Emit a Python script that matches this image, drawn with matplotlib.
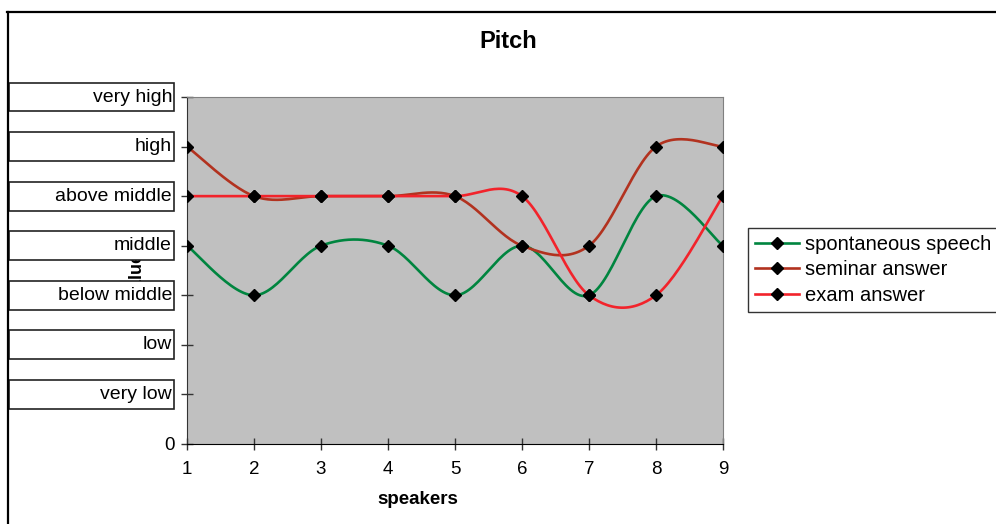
import numpy as np
import matplotlib
matplotlib.use('Agg')
import matplotlib.pyplot as plt
import matplotlib.transforms as mtransforms
from matplotlib.lines import Line2D
from matplotlib.patches import Rectangle

plt.rcParams['font.family'] = ['Liberation Sans', 'DejaVu Sans']

# pitch rating of each speaker (0 .. 7 scale)
speakers = [1, 2, 3, 4, 5, 6, 7, 8, 9]
spontaneous = [4, 3, 4, 4, 3, 4, 3, 5, 4]
seminar = [6, 5, 5, 5, 5, 4, 4, 6, 6]
exam = [5, 5, 5, 5, 5, 5, 3, 3, 5]
series_names = ['spontaneous speech', 'seminar answer', 'exam answer']
series_colors = ['#00853f', '#b2321f', '#f2232b']
level_labels = ['very low', 'low', 'below middle', 'middle',
                'above middle', 'high', 'very high']


def smooth(xs, ys, n=30):
    # spreadsheet-style smoothed line: catmull-rom segments as cubic beziers
    p = np.column_stack([xs, ys]).astype(float)
    p = np.vstack([p[0], p, p[-1]])
    out = []
    t = np.linspace(0, 1, n)[:, None]
    for i in range(1, len(p) - 2):
        p0, p1, p2, p3 = p[i - 1], p[i], p[i + 1], p[i + 2]
        c1 = p1 + (p2 - p0) / 6.0
        c2 = p2 - (p3 - p1) / 6.0
        seg = ((1 - t) ** 3) * p1 + 3 * ((1 - t) ** 2) * t * c1 \
            + 3 * (1 - t) * t ** 2 * c2 + t ** 3 * p2
        out.append(seg if i == 1 else seg[1:])
    out = np.vstack(out)
    return out[:, 0], out[:, 1]


W, H = 996, 524
fig = plt.figure(figsize=(W / 100, H / 100), dpi=100)
ax = fig.add_axes([187 / W, 1 - 444 / H, (723 - 187) / W, (444 - 97) / H])
ax.set_facecolor('#c0c0c0')

for ys, name, col in zip([spontaneous, seminar, exam], series_names, series_colors):
    sx, sy = smooth(speakers, ys)
    ax.plot(sx, sy, color=col, lw=1.9, solid_capstyle='round', zorder=3)
    ax.plot(speakers, ys, ls='none', marker='D', ms=6.5, color='black', zorder=4)

ax.set_xlim(1, 9)
ax.set_ylim(0, 7)
ax.set_xticks(speakers)
ax.set_yticks(range(8))
ax.set_yticklabels(['0'] + [''] * 7)
ax.tick_params(direction='inout', length=9, width=1, labelsize=13.5, color='#333333')
ax.tick_params(axis='x', pad=8)
ax.tick_params(axis='y', pad=4)
ax.spines['left'].set_color('#333333')
ax.spines['bottom'].set_color('black')
ax.spines['top'].set_color('#808080')
ax.spines['right'].set_color('#808080')

# axis title sits behind the level boxes
bt = mtransforms.blended_transform_factory(fig.transFigure, ax.transData)
ax.text(137 / W, 3.4, 'Value', transform=bt, rotation=90,
        ha='center', va='center', fontsize=13, fontweight='bold', zorder=1)
for lvl, lab in enumerate(level_labels, start=1):
    rect = Rectangle((9 / W, lvl - 0.29), (174 - 9) / W, 0.58, transform=bt,
                     facecolor='white', edgecolor='#222222', lw=1.2,
                     clip_on=False, zorder=5)
    ax.add_patch(rect)
    ax.text(172 / W, lvl, lab, transform=bt, ha='right', va='center',
            fontsize=14, zorder=6, clip_on=False)

fig.text(508 / W, 1 - 41 / H, 'Pitch', ha='center', va='center',
         fontsize=17, fontweight='bold')
fig.text(418 / W, 1 - 499 / H, 'speakers', ha='center', va='center',
         fontsize=13.5, fontweight='bold')

handles = [Line2D([], [], color=c, lw=1.9, marker='D', ms=6.5,
                  markerfacecolor='black', markeredgecolor='black')
           for c in series_colors]
leg = fig.legend(handles, series_names, loc='upper left',
                 bbox_to_anchor=(748 / W, 1 - 228 / H), fontsize=14.5,
                 frameon=True, fancybox=False, shadow=False,
                 handlelength=2.2, handletextpad=0.3, labelspacing=0.32,
                 borderpad=0.35, borderaxespad=0)
leg.get_frame().set_edgecolor('black')
leg.get_frame().set_linewidth(1)

# chart border
fig.add_artist(Line2D([7 / W, 1], [1 - 12 / H, 1 - 12 / H], color='black', lw=1.6))
fig.add_artist(Line2D([8 / W, 8 / W], [0, 1 - 12 / H], color='black', lw=1.6))

fig.savefig('out.png', dpi=100)
